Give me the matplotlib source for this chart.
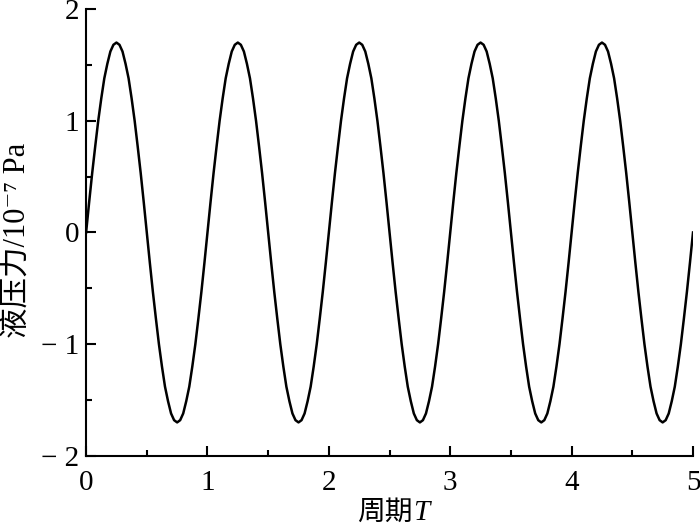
import matplotlib
matplotlib.use('Agg')
import matplotlib.pyplot as plt
from matplotlib.ticker import MultipleLocator

plt.rcParams['font.family'] = ['Liberation Serif', 'Noto Sans CJK SC', 'DejaVu Serif']

# period T, sampled every 0.025
period = [i * 0.025 for i in range(201)]
pressure = [
    0.00, 0.27, 0.53, 0.77, 1.00, 1.20, 1.38, 1.51, 1.62, 1.68,
    1.70, 1.68, 1.62, 1.51, 1.38, 1.20, 1.00, 0.77, 0.53, 0.27,
    0.00, -0.27, -0.53, -0.77, -1.00, -1.20, -1.38, -1.51, -1.62, -1.68,
    -1.70, -1.68, -1.62, -1.51, -1.38, -1.20, -1.00, -0.77, -0.53, -0.27,
    0.00, 0.27, 0.53, 0.77, 1.00, 1.20, 1.38, 1.51, 1.62, 1.68,
    1.70, 1.68, 1.62, 1.51, 1.38, 1.20, 1.00, 0.77, 0.53, 0.27,
    0.00, -0.27, -0.53, -0.77, -1.00, -1.20, -1.38, -1.51, -1.62, -1.68,
    -1.70, -1.68, -1.62, -1.51, -1.38, -1.20, -1.00, -0.77, -0.53, -0.27,
    0.00, 0.27, 0.53, 0.77, 1.00, 1.20, 1.38, 1.51, 1.62, 1.68,
    1.70, 1.68, 1.62, 1.51, 1.38, 1.20, 1.00, 0.77, 0.53, 0.27,
    0.00, -0.27, -0.53, -0.77, -1.00, -1.20, -1.38, -1.51, -1.62, -1.68,
    -1.70, -1.68, -1.62, -1.51, -1.38, -1.20, -1.00, -0.77, -0.53, -0.27,
    0.00, 0.27, 0.53, 0.77, 1.00, 1.20, 1.38, 1.51, 1.62, 1.68,
    1.70, 1.68, 1.62, 1.51, 1.38, 1.20, 1.00, 0.77, 0.53, 0.27,
    0.00, -0.27, -0.53, -0.77, -1.00, -1.20, -1.38, -1.51, -1.62, -1.68,
    -1.70, -1.68, -1.62, -1.51, -1.38, -1.20, -1.00, -0.77, -0.53, -0.27,
    0.00, 0.27, 0.53, 0.77, 1.00, 1.20, 1.38, 1.51, 1.62, 1.68,
    1.70, 1.68, 1.62, 1.51, 1.38, 1.20, 1.00, 0.77, 0.53, 0.27,
    0.00, -0.27, -0.53, -0.77, -1.00, -1.20, -1.38, -1.51, -1.62, -1.68,
    -1.70, -1.68, -1.62, -1.51, -1.38, -1.20, -1.00, -0.77, -0.53, -0.27,
    0.00,
]

x_ticks = [0, 1, 2, 3, 4, 5]
x_labels = ['0', '1', '2', '3', '4', '5']
y_ticks = [-2, -1, 0, 1, 2]
y_labels = ['\u2212 2', '\u2212 1', '0', '1', '2']

fig = plt.figure(figsize=(7, 5.32), dpi=100)
ax = fig.add_axes([0.123, 0.143, 0.867, 0.840])

ax.plot(period, pressure, color='black', lw=1.8)

ax.set_xlim(0, 5)
ax.set_ylim(-2, 2)
ax.set_xticks(x_ticks)
ax.set_xticklabels(x_labels)
ax.set_yticks(y_ticks)
ax.set_yticklabels(y_labels)
ax.xaxis.set_minor_locator(MultipleLocator(0.5))
ax.yaxis.set_minor_locator(MultipleLocator(0.5))

ax.spines['top'].set_visible(False)
ax.spines['right'].set_visible(False)
for s in ['left', 'bottom']:
    ax.spines[s].set_linewidth(1.5)

ax.tick_params(which='major', direction='in', length=7, width=1.5, labelsize=21)
ax.tick_params(axis='x', which='major', pad=10)
ax.tick_params(axis='y', which='major', pad=5)
ax.tick_params(which='minor', direction='in', length=4, width=1.5)

# x label: Chinese part + italic T
fig.text(0.59, 0.036, '周期', fontsize=20, ha='right', va='center')
fig.text(0.59, 0.036, 'T', fontsize=21, style='italic', ha='left', va='center')

ax.set_ylabel('液压力/10\u207b\u2077 Pa', fontsize=22)
ax.yaxis.set_label_coords(-0.088, 0.483)

fig.savefig('out.png', dpi=100)
